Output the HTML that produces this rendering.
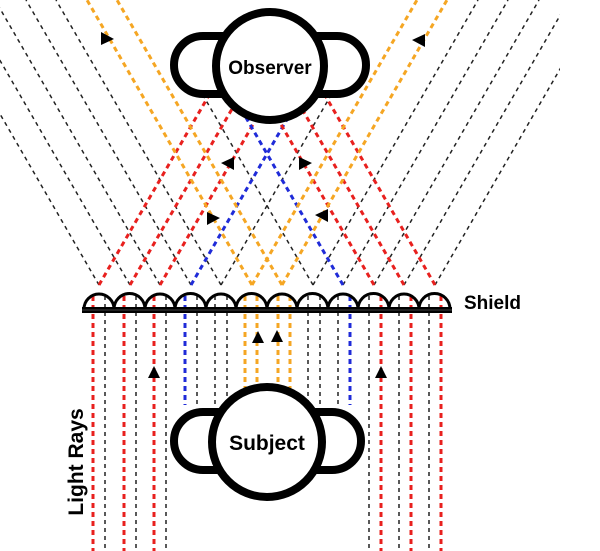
<!DOCTYPE html>
<html><head><style>
html,body{margin:0;padding:0;background:#fff;}
svg{display:block;}
text{font-family:"Liberation Sans",sans-serif;font-weight:bold;fill:#000;}
</style></head><body>
<svg width="600" height="551" viewBox="0 0 600 551" xmlns="http://www.w3.org/2000/svg">
<defs><clipPath id="up"><rect x="0" y="0" width="560" height="290"/></clipPath></defs>
<g clip-path="url(#up)" fill="none">
 <g stroke="#222" stroke-width="1.5" stroke-dasharray="4 4">
  <line x1="99" y1="285" x2="-66" y2="0"/>
  <line x1="130" y1="285" x2="-35" y2="0"/>
  <line x1="160" y1="285" x2="-5" y2="0"/>
  <line x1="191" y1="285" x2="26" y2="0"/>
  <line x1="221" y1="285" x2="56" y2="0"/>
  <line x1="313" y1="285" x2="200" y2="90"/>
  <line x1="221" y1="285" x2="334" y2="90"/>
  <line x1="313" y1="285" x2="478" y2="0"/>
  <line x1="343" y1="285" x2="508" y2="0"/>
  <line x1="374" y1="285" x2="539" y2="0"/>
  <line x1="404" y1="285" x2="569" y2="0"/>
  <line x1="435" y1="285" x2="600" y2="0"/>
 </g>
 <g stroke-width="3" stroke-dasharray="5 4">
  <line x1="99" y1="285" x2="212" y2="90" stroke="#e8201e"/>
  <line x1="130" y1="285" x2="243" y2="90" stroke="#e8201e"/>
  <line x1="160" y1="285" x2="273" y2="90" stroke="#e8201e"/>
  <line x1="191" y1="285" x2="304" y2="90" stroke="#1f2bd8"/>
  <line x1="343" y1="285" x2="230" y2="90" stroke="#1f2bd8"/>
  <line x1="374" y1="285" x2="261" y2="90" stroke="#e8201e"/>
  <line x1="404" y1="285" x2="291" y2="90" stroke="#e8201e"/>
  <line x1="435" y1="285" x2="322" y2="90" stroke="#e8201e"/>
  <line x1="252" y1="285" x2="87" y2="0" stroke="#f5a623"/>
  <line x1="282" y1="285" x2="117" y2="0" stroke="#f5a623"/>
  <line x1="252" y1="285" x2="417" y2="0" stroke="#f5a623"/>
  <line x1="282" y1="285" x2="447" y2="0" stroke="#f5a623"/>
 </g>
</g>
<g fill="none">
 <g stroke="#222" stroke-width="1.5" stroke-dasharray="4 4">
  <line x1="105" y1="296" x2="105" y2="551"/>
  <line x1="136" y1="296" x2="136" y2="551"/>
  <line x1="166" y1="296" x2="166" y2="551"/>
  <line x1="197" y1="296" x2="197" y2="405"/>
  <line x1="215" y1="296" x2="215" y2="405"/>
  <line x1="227" y1="296" x2="227" y2="405"/>
  <line x1="308" y1="296" x2="308" y2="405"/>
  <line x1="320" y1="296" x2="320" y2="405"/>
  <line x1="338" y1="296" x2="338" y2="405"/>
  <line x1="369" y1="296" x2="369" y2="551"/>
  <line x1="399" y1="296" x2="399" y2="551"/>
  <line x1="429" y1="296" x2="429" y2="551"/>
 </g>
 <g stroke-width="3" stroke-dasharray="5 4">
  <line x1="93" y1="296" x2="93" y2="551" stroke="#e8201e"/>
  <line x1="124" y1="296" x2="124" y2="551" stroke="#e8201e"/>
  <line x1="154" y1="296" x2="154" y2="551" stroke="#e8201e"/>
  <line x1="185" y1="296" x2="185" y2="405" stroke="#1f2bd8"/>
  <line x1="350" y1="296" x2="350" y2="405" stroke="#1f2bd8"/>
  <line x1="245" y1="296" x2="245" y2="400" stroke="#f5a623"/>
  <line x1="257" y1="296" x2="257" y2="400" stroke="#f5a623"/>
  <line x1="278" y1="296" x2="278" y2="400" stroke="#f5a623"/>
  <line x1="290" y1="296" x2="290" y2="400" stroke="#f5a623"/>
  <line x1="381" y1="296" x2="381" y2="551" stroke="#e8201e"/>
  <line x1="411" y1="296" x2="411" y2="551" stroke="#e8201e"/>
  <line x1="441" y1="296" x2="441" y2="551" stroke="#e8201e"/>
 </g>
</g>
<g fill="none" stroke="#000" stroke-width="3">
 <path d="M84 309 A15 15 0 0 1 114 309 A15 15 0 0 1 145 309 A15 15 0 0 1 175 309 A15 15 0 0 1 206 309 A15 15 0 0 1 236 309 A15 15 0 0 1 267 309 A15 15 0 0 1 297 309 A15 15 0 0 1 328 309 A15 15 0 0 1 358 309 A15 15 0 0 1 389 309 A15 15 0 0 1 419 309 A15 15 0 0 1 450 309"/>
</g>
<rect x="82" y="307" width="370" height="6" fill="#000"/>
<line x1="82" y1="310" x2="452" y2="310" stroke="#555" stroke-width="0.8"/>
<text x="464" y="309" font-size="19">Shield</text>
<g stroke="#000" stroke-width="8" fill="#fff">
 <rect x="174" y="36" width="80" height="58" rx="29"/>
 <rect x="286" y="36" width="80" height="58" rx="29"/>
 <circle cx="270" cy="66" r="54"/>
</g>
<text x="270" y="74" font-size="19" text-anchor="middle">Observer</text>
<g stroke="#000" stroke-width="8" fill="#fff">
 <rect x="174" y="412" width="80" height="58" rx="29"/>
 <rect x="281" y="412" width="80" height="58" rx="29"/>
 <circle cx="267" cy="442" r="55"/>
</g>
<text x="267" y="450" font-size="21" text-anchor="middle">Subject</text>
<text transform="translate(83,462) rotate(-90)" font-size="21" text-anchor="middle">Light Rays</text>
<g fill="#000">
 <polygon points="101,32 101,45 114,39"/>
 <polygon points="425,34 425,47 412,40"/>
 <polygon points="234,157 234,170 221,163"/>
 <polygon points="299,157 299,170 312,163"/>
 <polygon points="207,212 207,225 220,218"/>
 <polygon points="328,209 328,222 315,215"/>
 <polygon points="252,343 264,343 258,331"/>
 <polygon points="271,342 283,342 277,330"/>
 <polygon points="148,378 160,378 154,366"/>
 <polygon points="375,378 387,378 381,366"/>
</g>
</svg>
</body></html>
